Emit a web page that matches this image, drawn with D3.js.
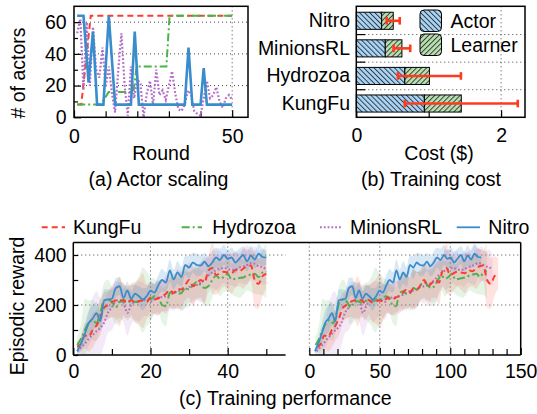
<!DOCTYPE html>
<html><head><meta charset="utf-8">
<script src="https://cdn.jsdelivr.net/npm/d3@7"></script>
<style>
body{margin:0;background:#fff}
text{font-family:"Liberation Sans",Arial,Helvetica,sans-serif;font-size:19.5px;fill:#000}
</style>
</head><body>
<svg id="chart" width="537" height="414"></svg>
<script>
// ---------------- DATA ----------------
const systems = ["KungFu", "Hydrozoa", "MinionsRL", "Nitro"];

// (a) Actor scaling: # of actors per round
const kungfuScaleRounds = [1, 2.3, 5.3, 50];
const kungfuScaleActors = [8, 8, 64, 64];
const hydrozoaScaleRounds = [1, 8.5, 11, 18.8, 19.8, 29.2, 30.2, 50];
const hydrozoaScaleActors = [8, 8, 16, 16, 32, 32, 64, 64];
const nitroScaleRounds = [1, 3, 4.6, 6, 7.3, 9.3, 11, 13, 18, 19.2, 20.5, 35, 36.2, 37.4, 40, 41, 42, 50];
const nitroScaleActors = [64, 64, 22, 54, 8, 8, 64, 8, 8, 54, 8, 8, 44, 8, 8, 31, 8, 8];
const minionsScaleRounds = d3.range(1, 51);
const minionsScaleActors = [53, 62, 17, 60, 20, 57, 30, 25, 44, 19, 32, 15, 3, 30, 53, 20, 1, 32, 12, 24,
                            21, 0, 15, 23, 8, 30, 14, 17, 11, 20, 29, 15, 5, 4, 8, 17, 14, 4, 2, 1,
                            12, 23, 12, 14, 19, 10, 6, 12, 14, 11];

// (b) Training cost ($)
const costCategories = ["Nitro", "MinionsRL", "Hydrozoa", "KungFu"];
const actorCost   = {KungFu: 0.94, Hydrozoa: 0.67, MinionsRL: 0.40, Nitro: 0.35};
const learnerCost = {KungFu: 0.51, Hydrozoa: 0.34, MinionsRL: 0.23, Nitro: 0.16};
const costError   = {KungFu: 0.78, Hydrozoa: 0.435, MinionsRL: 0.115, Nitro: 0.09};
const costTicks = [0, 2];

// (c) Training performance: episodic reward per round (1..50) and spread
const rounds = d3.range(1, 51);
const rewardKungFu = [33, 45, 78, 73, 100, 118, 150, 190, 200, 212, 218, 215, 220, 208, 220, 210, 215, 218, 213, 230,
                      222, 227, 235, 245, 260, 248, 265, 262, 280, 300, 275, 287, 300, 290, 338, 348, 320, 327, 333, 330,
                      327, 340, 335, 345, 355, 358, 300, 285, 315, 325];
const rewardHydrozoa = [40, 65, 100, 128, 140, 127, 170, 218, 222, 212, 190, 213, 215, 210, 218, 212, 215, 220, 225, 222,
                        235, 230, 200, 195, 248, 255, 245, 248, 268, 262, 280, 292, 280, 268, 275, 300, 318, 305, 312, 325,
                        302, 305, 308, 310, 318, 322, 325, 312, 330, 335];
const rewardMinionsRL = [15, 30, 45, 65, 80, 95, 108, 130, 170, 190, 215, 220, 210, 168, 200, 212, 215, 220, 218, 212,
                         225, 230, 232, 235, 240, 248, 255, 258, 262, 272, 275, 280, 290, 302, 318, 330, 340, 345, 348, 345,
                         340, 342, 350, 355, 360, 368, 365, 355, 352, 342];
const rewardNitro = [15, 45, 85, 128, 145, 167, 135, 218, 222, 225, 268, 275, 228, 258, 225, 245, 235, 222, 235, 257,
                     250, 278, 300, 290, 338, 302, 330, 312, 360, 350, 370, 360, 358, 373, 355, 370, 390, 380, 400, 385,
                     390, 370, 385, 400, 375, 398, 382, 405, 392, 390];
const spreadKungFu = [20, 30, 50, 60, 70, 60, 70, 60, 55, 60, 70, 100, 60, 70, 60, 80, 90, 110, 70, 60,
                      60, 70, 60, 70, 70, 60, 80, 70, 60, 70, 80, 60, 70, 90, 60, 100, 80, 70, 60, 70,
                      80, 70, 60, 80, 70, 60, 110, 100, 80, 60];
const spreadHydrozoa = [30, 60, 125, 90, 80, 70, 60, 70, 80, 60, 70, 80, 70, 60, 70, 80, 100, 130, 110, 90,
                        70, 60, 70, 80, 60, 70, 60, 70, 80, 70, 60, 70, 60, 70, 80, 70, 60, 70, 60, 70,
                        60, 70, 80, 70, 60, 70, 80, 70, 90, 110];
const spreadMinionsRL = [20, 40, 60, 110, 150, 160, 120, 90, 80, 90, 80, 70, 80, 90, 80, 70, 80, 70, 60, 70,
                         60, 70, 60, 70, 60, 70, 60, 80, 70, 60, 70, 60, 80, 90, 70, 60, 80, 70, 60, 70,
                         60, 70, 60, 70, 80, 60, 70, 60, 70, 60];
const spreadNitro = [15, 25, 40, 50, 55, 45, 40, 45, 40, 35, 40, 35, 40, 35, 30, 35, 40, 45, 35, 40,
                     35, 40, 45, 40, 45, 40, 45, 40, 40, 45, 40, 45, 40, 35, 40, 45, 40, 45, 40, 35,
                     40, 45, 40, 35, 40, 40, 35, 40, 35, 30];
// wall-clock time (x of the right sub-plot) at round 1 and round 50
const timeStart = {KungFu: 5.5, Hydrozoa: 4.5, MinionsRL: 5, Nitro: 4};
const timeEnd   = {KungFu: 134, Hydrozoa: 126, MinionsRL: 130, Nitro: 122};

// ---------------- STYLE ----------------
const color = {KungFu: "#ff3a2e", Hydrozoa: "#4cb34a", MinionsRL: "#b46cc9", Nitro: "#3a8dcb"};
const dash  = {KungFu: "6,4", Hydrozoa: "8,3,2,3", MinionsRL: "1.8,2", Nitro: null};
const FS = 19.5;

const svg = d3.select("#chart");
const defs = svg.append("defs");

function hatch(id, fill, angle) {
  const s = 3.6;
  const p = defs.append("pattern").attr("id", id).attr("patternUnits", "userSpaceOnUse")
    .attr("width", s).attr("height", s).attr("patternTransform", `rotate(${angle})`);
  p.append("rect").attr("width", s).attr("height", s).attr("fill", fill);
  p.append("line").attr("x1", 0.5).attr("y1", 0).attr("x2", 0.5).attr("y2", s)
    .attr("stroke", "#111").attr("stroke-width", 0.75);
}
hatch("hActor", "#a9d4f5", -45);
hatch("hLearner", "#b8dfb1", 45);

function clip(id, x, y, w, h) {
  defs.append("clipPath").attr("id", id).append("rect").attr("x", x).attr("y", y).attr("width", w).attr("height", h);
}
function grid(g, x1, y1, x2, y2) {
  g.append("line").attr("x1", x1).attr("y1", y1).attr("x2", x2).attr("y2", y2)
    .attr("stroke", "#444").attr("stroke-width", 1).attr("stroke-dasharray", "1,3");
}
function styleAxis(g) {
  g.select(".domain").remove();
  g.selectAll(".tick line").attr("stroke", "#000").attr("stroke-width", 1.2);
  g.selectAll(".tick text").style("font-size", FS + "px").attr("fill", "#000");
}

// ================= (a) Actor scaling =================
{
  const L = 74, R = 248, T = 6.3, B = 117.3;
  const x = d3.scaleLinear().domain([0, 55]).range([L, R]);
  const y = d3.scaleLinear().domain([0, 70]).range([B, T]);
  const g = svg.append("g");
  [20, 40, 60].forEach(v => grid(g, L, y(v), R, y(v)));
  grid(g, x(50), T, x(50), B);

  g.append("g").attr("transform", `translate(0,${B})`)
    .call(d3.axisBottom(x).tickValues([10, 20, 30, 40]).tickSize(-6).tickFormat("")).call(styleAxis);
  g.append("g").attr("transform", `translate(0,${B})`)
    .call(d3.axisBottom(x).tickValues([0, 50]).tickSize(-7).tickPadding(11.6)).call(styleAxis);
  g.append("g").attr("transform", `translate(${L},0)`)
    .call(d3.axisLeft(y).tickValues([10, 30, 50]).tickSize(-4).tickFormat("")).call(styleAxis);
  g.append("g").attr("transform", `translate(${L},0)`)
    .call(d3.axisLeft(y).tickValues([0, 20, 40, 60]).tickSize(-7).tickPadding(7.3)).call(styleAxis);

  clip("clipA", L, T, R - L, B - T);
  const pg = g.append("g").attr("clip-path", "url(#clipA)");
  const line = d3.line().x(d => x(d[0])).y(d => y(d[1]));
  const series = [
    ["KungFu", d3.zip(kungfuScaleRounds, kungfuScaleActors)],
    ["Hydrozoa", d3.zip(hydrozoaScaleRounds, hydrozoaScaleActors)],
    ["MinionsRL", d3.zip(minionsScaleRounds, minionsScaleActors)],
    ["Nitro", d3.zip(nitroScaleRounds, nitroScaleActors)]
  ];
  series.forEach(([name, pts]) => {
    pg.append("path").attr("d", line(pts)).attr("fill", "none")
      .attr("stroke", color[name]).attr("stroke-width", name === "Nitro" ? 2.6 : (name === "MinionsRL" ? 2.2 : 2))
      .attr("stroke-dasharray", dash[name]);
  });
  g.append("rect").attr("x", L).attr("y", T).attr("width", R - L).attr("height", B - T)
    .attr("fill", "none").attr("stroke", "#000").attr("stroke-width", 1.5);

  g.append("text").attr("x", 161).attr("y", 160).attr("text-anchor", "middle").text("Round");
  g.append("text").attr("transform", "translate(25,73) rotate(-90)").attr("text-anchor", "middle").text("# of actors");
  g.append("text").attr("x", 158.5).attr("y", 186).attr("text-anchor", "middle").text("(a) Actor scaling");
}

// ================= (b) Training cost =================
{
  const L = 356.3, R = 525, T = 6.3, B = 117.3;
  const x = d3.scaleLinear().domain([0, 2.33]).range([L, R]);
  const y = d3.scaleBand().domain(costCategories).range([7, B]).paddingInner(0.38).paddingOuter(0.19);
  const g = svg.append("g");
  const step = y.step();
  const boundaries = costCategories.slice(1).map(c => y(c) - step * 0.19);
  boundaries.forEach(v => grid(g, L, v, R, v));
  grid(g, x(2), T, x(2), B);
  boundaries.forEach(v => g.append("line").attr("x1", L).attr("x2", L + 9).attr("y1", v).attr("y2", v)
    .attr("stroke", "#000").attr("stroke-width", 1.2));

  g.append("g").attr("transform", `translate(0,${B})`)
    .call(d3.axisBottom(x).tickValues([1]).tickSize(-6).tickFormat("")).call(styleAxis);
  g.append("g").attr("transform", `translate(0,${B})`)
    .call(d3.axisBottom(x).tickValues(costTicks).tickSize(-7).tickPadding(11).tickFormat(d3.format("d"))).call(styleAxis);
  g.append("g").attr("transform", `translate(${L},0)`)
    .call(d3.axisLeft(y).tickSize(0).tickPadding(6.3)).call(styleAxis);

  costCategories.forEach(c => {
    const a = actorCost[c], l = learnerCost[c], e = costError[c];
    g.append("rect").attr("x", x(0)).attr("y", y(c)).attr("width", x(a) - x(0)).attr("height", y.bandwidth())
      .attr("fill", "url(#hActor)").attr("stroke", "#000").attr("stroke-width", 1);
    g.append("rect").attr("x", x(a)).attr("y", y(c)).attr("width", x(a + l) - x(a)).attr("height", y.bandwidth())
      .attr("fill", "url(#hLearner)").attr("stroke", "#000").attr("stroke-width", 1);
    const cy = y(c) + y.bandwidth() / 2, tot = a + l;
    const eg = g.append("g").attr("stroke", "#ff3b1f").attr("stroke-width", 2.6);
    eg.append("line").attr("x1", x(tot - e)).attr("x2", x(tot + e)).attr("y1", cy).attr("y2", cy);
    [tot - e, tot + e].forEach(v => eg.append("line").attr("x1", x(v)).attr("x2", x(v))
      .attr("y1", cy - 3.8).attr("y2", cy + 3.8));
  });

  // legend
  [["Actor", "hActor", 10], ["Learner", "hLearner", 34]].forEach(([lab, pat, ly]) => {
    g.append("rect").attr("x", 420).attr("y", ly).attr("width", 21.5).attr("height", 21.5).attr("rx", 4)
      .attr("fill", `url(#${pat})`).attr("stroke", "#000").attr("stroke-width", 1);
    g.append("text").attr("x", 450.5).attr("y", ly + 18.3).text(lab);
  });

  g.append("rect").attr("x", L).attr("y", T).attr("width", R - L).attr("height", B - T)
    .attr("fill", "none").attr("stroke", "#000").attr("stroke-width", 1.5);
  g.append("text").attr("x", 439).attr("y", 160).attr("text-anchor", "middle").text("Cost ($)");
  g.append("text").attr("x", 431).attr("y", 186).attr("text-anchor", "middle").text("(b) Training cost");
}

// ================= (c) Training performance =================
{
  const T = 242.5, B = 355;
  const y = d3.scaleLinear().domain([0, 450]).range([B, T]);
  const L1 = 73.3, R1 = 285.6, L2 = 309.3, R2 = 520.7;
  const x1 = d3.scaleLinear().domain([0, 55]).range([L1, R1]);
  const x2 = d3.scaleLinear().domain([0, 150]).range([L2, R2]);
  const g = svg.append("g");
  const rewards = {KungFu: rewardKungFu, Hydrozoa: rewardHydrozoa, MinionsRL: rewardMinionsRL, Nitro: rewardNitro};
  const spreads = {KungFu: spreadKungFu, Hydrozoa: spreadHydrozoa, MinionsRL: spreadMinionsRL, Nitro: spreadNitro};

  [200, 400].forEach(v => { grid(g, L1, y(v), R1, y(v)); grid(g, L2, y(v), R2, y(v)); });
  [20, 40].forEach(v => grid(g, x1(v), T, x1(v), B));
  [0, 50, 100].forEach(v => grid(g, x2(v), T, x2(v), B));

  clip("clipC1", L1, T, R1 - L1, B - T);
  clip("clipC2", L2, T, R2 - L2, B - T);
  const bandOpacity = {KungFu: 0.14, Hydrozoa: 0.14, MinionsRL: 0.14, Nitro: 0.2};
  const drawOrder = ["MinionsRL", "Hydrozoa", "KungFu", "Nitro"];

  function drawPanel(clipId, xOf) {
    const pg = g.append("g").attr("clip-path", `url(#${clipId})`);
    drawOrder.forEach(name => {
      const pts = rounds.map((r, i) => ({x: xOf(name, r), v: rewards[name][i], s: spreads[name][i]}));
      const area = d3.area().curve(d3.curveMonotoneX).x(d => d.x)
        .y0(d => y(Math.max(0, d.v - d.s))).y1(d => y(d.v + d.s));
      pg.append("path").attr("d", area(pts)).attr("fill", color[name]).attr("fill-opacity", bandOpacity[name]);
    });
    drawOrder.forEach(name => {
      const pts = rounds.map((r, i) => ({x: xOf(name, r), v: rewards[name][i]}));
      const line = d3.line().curve(d3.curveMonotoneX).x(d => d.x).y(d => y(d.v));
      pg.append("path").attr("d", line(pts)).attr("fill", "none").attr("stroke", color[name])
        .attr("stroke-width", name === "Nitro" ? 1.8 : 2).attr("stroke-dasharray", dash[name]);
    });
  }
  drawPanel("clipC1", (name, r) => x1(r));
  const timeScale = {};
  systems.forEach(s => timeScale[s] = d3.scaleLinear().domain([1, 50]).range([timeStart[s], timeEnd[s]]));
  drawPanel("clipC2", (name, r) => x2(timeScale[name](r)));

  g.append("g").attr("transform", `translate(0,${B})`)
    .call(d3.axisBottom(x1).tickValues([10, 30, 50]).tickSize(-6).tickFormat("")).call(styleAxis);
  g.append("g").attr("transform", `translate(0,${B})`)
    .call(d3.axisBottom(x1).tickValues([0, 20, 40]).tickSize(-7).tickPadding(9.5)).call(styleAxis);
  g.append("g").attr("transform", `translate(0,${B})`)
    .call(d3.axisBottom(x2).tickValues(d3.range(10, 150, 10).filter(v => v % 50)).tickSize(-6).tickFormat("")).call(styleAxis);
  g.append("g").attr("transform", `translate(0,${B})`)
    .call(d3.axisBottom(x2).tickValues([0, 50, 100, 150]).tickSize(-7).tickPadding(9.5)).call(styleAxis);
  g.append("g").attr("transform", `translate(${L1},0)`)
    .call(d3.axisLeft(y).tickValues([100, 300]).tickSize(-5).tickFormat("")).call(styleAxis);
  g.append("g").attr("transform", `translate(${L1},0)`)
    .call(d3.axisLeft(y).tickValues([0, 200, 400]).tickSize(-5).tickPadding(6.6)).call(styleAxis);

  const fr = g.append("g").attr("stroke", "#000").attr("stroke-width", 1.5).attr("fill", "none");
  fr.append("line").attr("x1", L1).attr("x2", R2).attr("y1", T).attr("y2", T);
  fr.append("line").attr("x1", L1).attr("x2", L1).attr("y1", T).attr("y2", B);
  fr.append("line").attr("x1", R2).attr("x2", R2).attr("y1", T).attr("y2", B);
  fr.append("line").attr("x1", L1).attr("x2", R1).attr("y1", B).attr("y2", B);
  fr.append("line").attr("x1", L2).attr("x2", R2).attr("y1", B).attr("y2", B);

  const legendPos = {KungFu: [41.7, 65, 73], Hydrozoa: [181.7, 202, 212.3], MinionsRL: [320, 342, 350], Nitro: [456.7, 480, 488.3]};
  systems.forEach(name => {
    const [a, b, t] = legendPos[name];
    g.append("line").attr("x1", a).attr("x2", b).attr("y1", 227.3).attr("y2", 227.3)
      .attr("stroke", color[name]).attr("stroke-width", name === "Nitro" ? 1.8 : 2).attr("stroke-dasharray", dash[name]);
    g.append("text").attr("x", t).attr("y", 234).text(name);
  });

  g.append("text").attr("transform", "translate(24,306) rotate(-90)").attr("text-anchor", "middle").text("Episodic reward");
  g.append("text").attr("x", 285.3).attr("y", 405).attr("text-anchor", "middle").text("(c) Training performance");
}
</script>
</body></html>
